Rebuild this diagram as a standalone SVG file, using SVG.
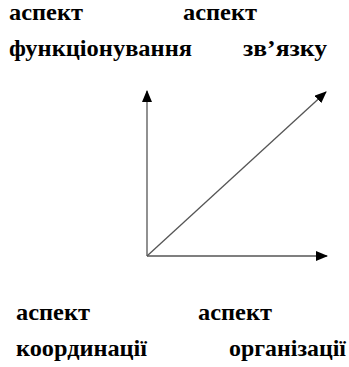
<svg xmlns="http://www.w3.org/2000/svg" width="349" height="367" viewBox="0 0 349 367">
<defs>
<marker id="ah" markerWidth="12" markerHeight="10" refX="11" refY="5" orient="auto" markerUnits="userSpaceOnUse">
<path d="M0,0 L12,5 L0,10 Z" fill="#000"/>
</marker>
<style>
.t{font-family:'Liberation Serif','Times New Roman',serif;font-weight:bold;font-size:23px;fill:#000}
.c{stroke:#555;stroke-width:1.3;fill:none}
</style>
</defs>
<rect width="349" height="367" fill="#fff"/>
<g id="n-functioning"><text class="t" x="9" y="20" textLength="74" lengthAdjust="spacingAndGlyphs">аспект</text><text class="t" x="9" y="56" textLength="183" lengthAdjust="spacingAndGlyphs">функціонування</text></g>
<g id="n-link"><text class="t" x="183" y="20" textLength="74" lengthAdjust="spacingAndGlyphs">аспект</text><text class="t" x="243" y="56" textLength="84" lengthAdjust="spacingAndGlyphs">зв’язку</text></g>
<g id="n-coordination"><text class="t" x="16" y="320" textLength="74" lengthAdjust="spacingAndGlyphs">аспект</text><text class="t" x="16" y="356" textLength="131" lengthAdjust="spacingAndGlyphs">координації</text></g>
<g id="n-organization"><text class="t" x="198" y="320" textLength="74" lengthAdjust="spacingAndGlyphs">аспект</text><text class="t" x="229" y="356" textLength="117" lengthAdjust="spacingAndGlyphs">організації</text></g>
<g id="connectors">
<line class="c" x1="147" y1="256" x2="147" y2="91" marker-end="url(#ah)"/>
<line class="c" x1="147" y1="256" x2="327" y2="256" marker-end="url(#ah)"/>
<line class="c" x1="147" y1="256" x2="326" y2="92" marker-end="url(#ah)"/>
</g>
</svg>
